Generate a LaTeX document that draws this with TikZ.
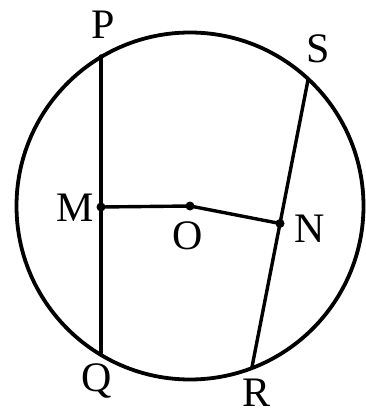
\documentclass[tikz,border=0pt]{standalone}
\usepackage{fontspec}
\setmainfont{Liberation Serif}
\usepackage{tikz}
\usetikzlibrary{positioning,calc}

\begin{document}
\begin{tikzpicture}[
    x=1pt, y=-1pt,
    chord/.style={line width=3.4pt, line cap=round},
    rim/.style={line width=3.8pt},
    ptlabel/.style={font=\fontsize{42}{42}\selectfont, inner sep=0pt},
    dotpt/.style={circle, fill=black, inner sep=0pt, minimum size=9pt}
]
\useasboundingbox (0,0) rectangle (366,415);
% points on the circle and on the chords
\coordinate (O) at (190,206);
\coordinate (P) at (101,56);
\coordinate (Q) at (101,353);
\coordinate (M) at (101,207);
\coordinate (S) at (308,80);
\coordinate (R) at (252,367);
\coordinate (N) at ($(S)!0.5!(R)$);

\draw[rim] (O) circle (173.5);
\draw[chord] (P) -- (Q);
\draw[chord] (S) -- (R);
\draw[chord] (M) -- (O) -- (N);

\node[dotpt] at (M) {};
\node[dotpt] at (O) {};
\node[dotpt] at (N) {};

% labels
\node[ptlabel] (lP) at (103,25) {P};
\node[ptlabel] (lS) at (318,49) {S};
\node[ptlabel] (lM) at (75,208) {M};
\node[ptlabel] (lO) at (188,236) {O};
\node[ptlabel] (lN) at (310,229) {N};
\node[ptlabel] (lQ) at (97,381) {Q};
\node[ptlabel] (lR) at (257,393) {R};
\end{tikzpicture}
\end{document}
